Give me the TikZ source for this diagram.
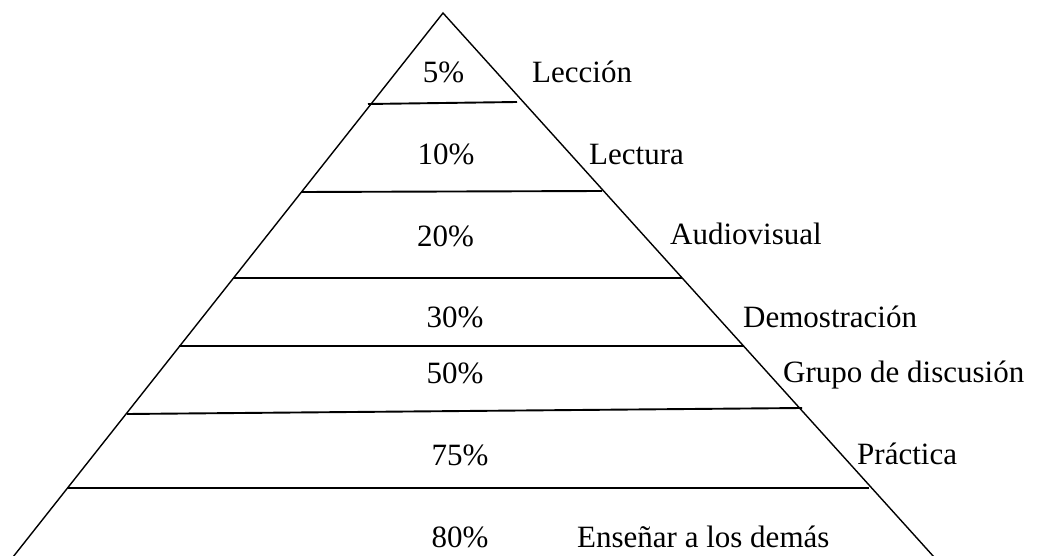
\documentclass[tikz,border=0pt]{standalone}
\usepackage{fontspec}
\setmainfont{Liberation Serif}
\begin{document}
\begin{tikzpicture}[x=1pt,y=-1pt,
  side/.style={line width=1.4pt, line cap=round},
  tier/.style={line width=1.9pt},
  lbl/.style={inner sep=0pt, anchor=base west, font=\fontsize{31}{36}\selectfont},
  pct/.style={inner sep=0pt, anchor=base, font=\fontsize{31}{36}\selectfont}]
\useasboundingbox[fill=white] (0,0) rectangle (1037,556);
% pyramid outline
\coordinate (apex) at (443,13);
\coordinate (bl) at (13,557);
\coordinate (br) at (934,557);
\draw[side] (bl) -- (apex) -- (br);
% tiers
\coordinate (t1l) at (368,104); \coordinate (t1r) at (517,102);
\coordinate (t2l) at (302,192); \coordinate (t2r) at (602,191);
\coordinate (t3l) at (234,278); \coordinate (t3r) at (682,278);
\coordinate (t4l) at (179,346); \coordinate (t4r) at (744,346);
\coordinate (t5l) at (127,414); \coordinate (t5r) at (802,408);
\coordinate (t6l) at (68,488);  \coordinate (t6r) at (869,488);
\foreach \i in {1,...,6} \draw[tier] (t\i l) -- (t\i r);
% percentages
\node[pct] (p5)  at (443.5,83) {5\%};
\node[pct] (p10) at (446,165) {10\%};
\node[pct] (p20) at (445.5,247) {20\%};
\node[pct] (p30) at (455,327) {30\%};
\node[pct] (p50) at (455,383) {50\%};
\node[pct] (p75) at (460,465) {75\%};
\node[pct] (p80) at (460,547) {80\%};
% labels
\node[lbl] (l1) at (532,83) {Lección};
\node[lbl] (l2) at (589,165) {Lectura};
\node[lbl] (l3) at (670,245) {Audiovisual};
\node[lbl] (l4) at (743,327) {Demostración};
\node[lbl] (l5) at (783,382) {Grupo de discusión};
\node[lbl] (l6) at (857,464) {Práctica};
\node[lbl] (l7) at (577,547) {Enseñar a los demás};
\end{tikzpicture}
\end{document}
